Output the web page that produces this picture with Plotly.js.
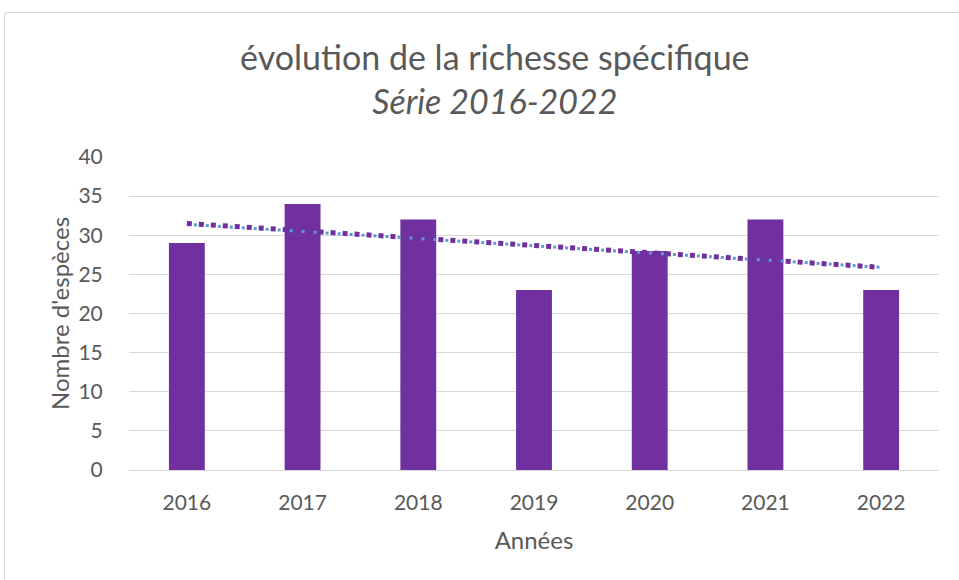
<!DOCTYPE html>
<html><head><meta charset="utf-8">
<script src="https://cdn.plot.ly/plotly-3.0.1.min.js"></script>
<style>
html,body{margin:0;padding:0;background:#fff;overflow:hidden}
#frame{position:absolute;left:4px;top:12px;width:1000px;height:600px;border-left:1px solid #d9d9d9;border-top:1px solid #d9d9d9;border-top-left-radius:3px}
#chart{position:absolute;left:0;top:0;width:959px;height:580px}
</style></head>
<body>
<div id="frame"></div>
<div id="chart"></div>
<script>
const years = ['2016','2017','2018','2019','2020','2021','2022'];
const species = [29, 34, 32, 23, 28, 32, 23];
const trendYears = ['2016','2022'];
const trendPurple = [31.5, 25.9];
const trendBlue = [31.4, 25.9];

const font = 'Lato, "Open Sans", sans-serif';
const grey = '#595959';

const data = [
  {type:'bar', x:years, y:species, marker:{color:'#7030a0'}, hoverinfo:'x+y', showlegend:false},
  {type:'scatter', mode:'lines', x:trendYears, y:trendPurple, line:{color:'#7030a0', width:5, dash:'5px,7px'}, showlegend:false},
  {type:'scatter', mode:'lines', x:trendYears, y:trendBlue, line:{color:'#5b9bd5', width:3, dash:'0px,7px,3px,2px'}, showlegend:false}
];

const layout = {
  width:959, height:580,
  paper_bgcolor:'rgba(0,0,0,0)', plot_bgcolor:'rgba(0,0,0,0)',
  margin:{l:129, r:20, t:157, b:110},
  font:{family:font, color:grey},
  bargap:0.69,
  title:{text:'évolution de la richesse spécifique<br><i>Série 2016-2022</i>', x:0.516, xanchor:'center', y:0.88, yanchor:'top', font:{size:34, color:grey, family:font}},
  xaxis:{type:'category', showgrid:false, showline:true, linecolor:'#d9d9d9', linewidth:1, ticks:'outside', ticklen:14, tickcolor:'rgba(0,0,0,0)', tickfont:{size:21, color:grey}, title:{text:'Années', font:{size:24, color:grey}, standoff:18}},
  yaxis:{range:[0,40], dtick:5, showgrid:true, gridcolor:'#d9d9d9', gridwidth:1, zeroline:false, ticks:'outside', ticklen:21, tickcolor:'rgba(0,0,0,0)', tickfont:{size:21, color:grey}, title:{text:"Nombre d'espèces", font:{size:24, color:grey}, standoff:2}}
};

Plotly.newPlot('chart', data, layout, {displayModeBar:false, staticPlot:true});
</script>
</body></html>
